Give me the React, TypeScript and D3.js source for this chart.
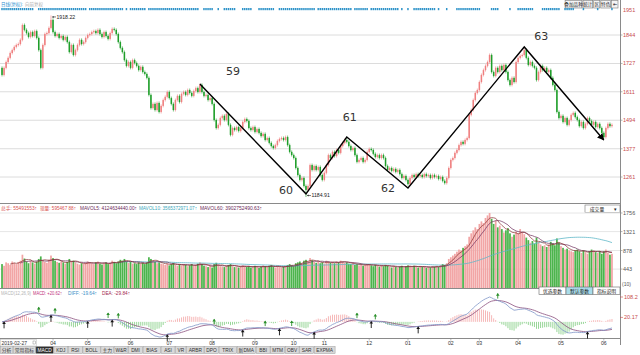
import React from 'react';
import * as d3 from 'd3';

// ---------- data ----------
const firstOpen = 1709;
const closes: number[] = [
  1680,1709,1733,1750,1770,1782,1795,1803,1807,1824,
  1885,1865,1852,1836,1856,1840,1860,1832,1782,1709,
  1803,1848,1852,1873,1906,1856,1840,1848,1832,1840,
  1824,1836,1815,1774,1803,1762,1782,1803,1824,1807,
  1815,1832,1844,1848,1856,1860,1852,1865,1848,1836,
  1856,1840,1828,1852,1869,1865,1848,1815,1791,1774,
  1741,1717,1733,1709,1741,1729,1717,1700,1713,1692,
  1684,1668,1598,1544,1561,1536,1565,1528,1553,1577,
  1590,1610,1585,1561,1536,1577,1594,1569,1602,1610,
  1598,1618,1606,1594,1614,1626,1610,1639,1610,1594,
  1598,1577,1585,1561,1495,1462,1475,1503,1512,1495,
  1520,1475,1434,1462,1454,1466,1450,1462,1487,1499,
  1491,1462,1454,1466,1446,1458,1442,1429,1438,1413,
  1421,1401,1388,1380,1392,1409,1417,1421,1413,1425,
  1392,1364,1351,1339,1298,1269,1249,1257,1224,1208,
  1224,1310,1290,1306,1290,1302,1269,1249,1278,1310,
  1351,1339,1364,1347,1372,1360,1388,1401,1413,1405,
  1388,1372,1380,1351,1323,1331,1339,1323,1331,1364,
  1376,1372,1356,1343,1351,1339,1351,1339,1306,1290,
  1298,1286,1294,1282,1290,1273,1257,1265,1249,1232,
  1257,1269,1261,1273,1265,1269,1261,1273,1265,1269,
  1257,1269,1261,1265,1253,1261,1245,1236,1257,1298,
  1331,1339,1360,1372,1392,1405,1397,1413,1421,1516,
  1536,1577,1606,1618,1651,1680,1700,1717,1733,1762,
  1692,1676,1709,1692,1717,1700,1721,1692,1659,1639,
  1668,1651,1733,1750,1758,1762,1782,1750,1721,1733,
  1717,1709,1659,1692,1717,1700,1709,1692,1700,1668,
  1639,1618,1528,1503,1512,1487,1503,1475,1495,1516,
  1524,1507,1495,1470,1487,1462,1479,1503,1491,1475,
  1487,1466,1479,1462,1442,1425,1462,1479,1470,1475,
];

const volumes: number[] = [
  560,520,600,580,540,620,590,560,610,640,
  780,690,620,580,640,600,570,620,680,740,
  650,610,590,660,760,700,640,610,590,620,
  600,570,610,680,630,640,600,570,550,580,
  560,590,620,600,580,560,600,620,570,550,
  580,600,560,590,640,610,580,620,660,640,
  680,620,590,610,570,580,560,600,570,590,
  560,600,720,680,640,610,580,600,570,560,
  540,570,530,560,590,540,520,550,530,560,
  540,510,530,560,520,540,570,600,560,520,
  510,490,520,480,560,590,540,510,500,490,
  520,540,560,510,490,500,480,510,530,500,
  490,510,480,500,520,490,470,500,530,510,
  490,520,540,500,480,510,490,470,500,520,
  540,560,530,510,580,600,620,580,640,660,
  620,700,650,610,590,620,580,600,560,640,
  620,590,610,580,620,600,640,620,590,600,
  570,560,580,540,560,530,550,520,540,560,
  550,530,510,540,520,500,530,510,540,520,
  500,480,510,490,470,500,520,480,510,530,
  510,490,520,500,480,510,490,500,470,490,
  480,510,500,520,490,530,560,540,580,680,
  720,760,800,850,900,880,940,980,1020,1200,
  1280,1350,1420,1380,1500,1560,1520,1640,1700,1756,
  1620,1500,1580,1420,1460,1380,1300,1350,1400,1280,
  1200,1250,1320,1280,1380,1300,1260,1180,1120,1060,
  1100,1040,1180,1080,1020,980,1000,960,1020,1080,
  1040,1000,1160,1060,980,940,900,920,880,860,
  840,880,900,860,820,880,840,800,860,900,
  880,840,820,860,800,860,900,820,780,800,
];

const extremeIdx = [24, 149];
const extremeVal = [1918.22, 1184.91];

const waveIdx = [97, 149, 169, 199, 256, 295];
const wavePrice = [1643, 1192, 1425, 1216, 1795, 1413];
const waveLabels = ['59', '60', '61', '62', '63'];

const priceTicks = [1261, 1377, 1494, 1611, 1727, 1844];
const volTicks = [443, 878, 1321, 1756];
const macdLabels = [108.2, 20.17];

const monthLabels = ['04','05','06','07','08','09','10','11','12','01','02','03','04','05','06'];
const monthIdx = [25, 42, 63, 82, 103, 124, 143, 158, 180, 199, 220, 234, 253, 274, 295];
const firstDate = '2019-02-27';

const infoRanges: [number, number][] = [
  [0,15],[18,41],[43,59],[61,61],[63,70],[72,96],[99,103],[106,106],[109,114],[118,122],
  [126,132],[133,133],[136,143],[144,153],[155,171],[173,179],[181,194],[196,196],[199,199],
  [202,212],[214,214],[218,218],[223,233],[234,234],[240,243],[249,249],[253,260],[265,273],
  [276,280],[285,285],[292,292],[299,299],
];

const volHeader = ['总手: 55491553↑', '现量: 595467 88↑', 'MAVOL5: 4124634440.00↑', 'MAVOL10: 3565372971.07↑', 'MAVOL60: 3902752490.63↑'];
const macdHeader = ['MACD(12,26,9)', 'MACD: +20.62↑', 'DIFF: -19.64↑', 'DEA: -29.84↑'];
const tabs = ['分析','常用指标','MACD','KDJ','RSI','BOLL','主力','W&R','DMI','BIAS','ASI','VR','ARBR','DPO','TRIX','新DMA','BBI','MTM','OBV','SAR','EXPMA'];
const topButtons = ['叠加品种','统计','区','特色','⇤'];
const macdButtons = ['优选参数','默认参数','指标说明'];

// ---------- styles ----------
const FONT = '"Liberation Sans", "Noto Sans CJK SC", sans-serif';
const UP = '#ef7f7f';
const DOWN = '#1f9e2a';
const VUP = '#f2a5a5';
const VDOWN = '#4cb44c';

function ema(arr: number[], p: number) {
  const k = 2 / (p + 1);
  const out: number[] = [];
  arr.forEach((v, i) => out.push(i === 0 ? v : v * k + out[i - 1] * (1 - k)));
  return out;
}

function textW(s: string, cjk: number, lat: number) {
  let w = 0;
  for (const ch of s) w += /[\u3000-\u9fff]/.test(ch) ? cjk : lat;
  return w;
}

export default function App() {
  const n = closes.length;
  const opens = closes.map((c, i) => (i === 0 ? firstOpen : closes[i - 1]));
  const x = d3.scaleBand<number>().domain(d3.range(n)).range([1, 613]);
  const bw = x.bandwidth();
  const cx = (i: number) => (x(i) ?? 0) + bw / 2;

  const yP = d3.scaleLinear().domain([1261, 1844]).range([177, 35]);
  const yV = d3.scaleLinear().domain([0, 1756]).range([288, 213]);

  const e12 = ema(closes, 12);
  const e26 = ema(closes, 26);
  const diff = e12.map((v, i) => v - e26[i]);
  const dea = ema(diff, 9);
  const hist = diff.map((v, i) => 2 * (v - dea[i]));
  const allM = [...diff, ...dea, ...hist];
  const yM = d3.scaleLinear().domain([d3.min(allM)!, d3.max(allM)!]).range([337, 297]);

  const ma = (p: number) => volumes.map((_, i) => (i < p - 1 ? null : (d3.mean(volumes.slice(i - p + 1, i + 1)) as number)));
  const vLine = d3.line<number | null>().defined((d) => d !== null).x((_, i) => cx(i)).y((d) => yV(d as number));
  const mLine = d3.line<number>().x((_, i) => cx(i)).y((d) => yM(d));

  const crosses: { i: number; up: boolean }[] = [];
  for (let i = 1; i < n; i++) {
    if (diff[i - 1] <= dea[i - 1] && diff[i] > dea[i]) crosses.push({ i, up: true });
    if (diff[i - 1] >= dea[i - 1] && diff[i] < dea[i]) crosses.push({ i, up: false });
  }

  const wavePts = waveIdx.map((i, k) => [cx(i), yP(wavePrice[k])] as [number, number]);
  const labelOff = [[33, -9], [-20, 0], [3, -16], [-20, 4], [17, -7]];

  let tx = 0;
  const tabCells = tabs.map((t) => {
    const w = textW(t, 4.6, 3.5) + 4;
    const c = { t, x: tx, w };
    tx += w;
    return c;
  });
  const tbW = topButtons.map((t) => textW(t, 3.6, 4) + 2.5);
  let bx = 619 - d3.sum(tbW) - topButtons.length;
  const tbCells = topButtons.map((t, k) => {
    const c = { t, x: bx, w: tbW[k] };
    bx += tbW[k] + 1;
    return c;
  });

  const topLabel = yP.invert(9).toFixed(0);

  return (
    <svg width={640} height={355} style={{ position: 'fixed', left: 0, top: 0, background: '#fff' }} fontFamily={FONT}>
      <defs>
        <marker id="ah" viewBox="0 0 10 10" refX="9" refY="5" markerWidth="5" markerHeight="5" orient="auto">
          <path d="M0,0 L10,5 L0,10 z" fill="#000" />
        </marker>
        <clipPath id="mainClip"><rect x={0} y={9} width={620} height={194} /></clipPath>
      </defs>

      {/* header */}
      <text x={1} y={5.5} fontSize={5} fill="#2d8fd0" textLength={22} lengthAdjust="spacingAndGlyphs">日线(复权):</text>
      <text x={25} y={5.5} fontSize={5} fill="#aaa" textLength={18} lengthAdjust="spacingAndGlyphs">向前复权</text>
      {tbCells.map((c, k) => (
        <g key={k}>
          <rect x={c.x} y={0.5} width={c.w} height={7.5} fill="#f4f4f4" stroke="#777" strokeWidth={0.6} />
          <text x={c.x + c.w / 2} y={6} fontSize={4.6} textAnchor="middle" fill="#222">{c.t}</text>
        </g>
      ))}

      {/* info mine markers */}
      {infoRanges.map(([a, b], k) =>
        d3.range(a, b + 1).map((i) => (
          <rect key={`${k}-${i}`} x={(x(i) ?? 0) + 0.25} y={8} width={bw - 0.55} height={2.2} fill="#2e93c9" />
        ))
      )}

      {/* price grid */}
      {priceTicks.map((t) => (
        <line key={t} x1={0} x2={620} y1={yP(t)} y2={yP(t)} stroke="#dcdcdc" strokeWidth={1} />
      ))}

      {/* candles */}
      <g clipPath="url(#mainClip)">
        {closes.map((c, i) => {
          const o = opens[i];
          const up = c >= o;
          let hi = Math.max(o, c);
          let lo = Math.min(o, c);
          const ek = extremeIdx.indexOf(i);
          if (ek >= 0) { hi = Math.max(hi, extremeVal[ek]); lo = Math.min(lo, extremeVal[ek]); }
          const y1 = yP(Math.max(o, c));
          const y2 = yP(Math.min(o, c));
          return (
            <g key={i}>
              <line x1={cx(i)} x2={cx(i)} y1={yP(hi) - 1.5} y2={yP(lo) + 1.5} stroke={up ? UP : DOWN} strokeWidth={0.6} />
              <rect x={cx(i) - 0.75} y={y1} width={1.5} height={Math.max(1, y2 - y1)} fill={up ? UP : DOWN} />
            </g>
          );
        })}
      </g>

      {/* extreme labels */}
      {extremeIdx.map((i, k) => (
        <g key={k}>
          <line x1={cx(i) + 1.5} x2={cx(i) + 5} y1={yP(extremeVal[k])} y2={yP(extremeVal[k])} stroke="#222" strokeWidth={0.6} />
          <path d={`M${cx(i) + 1},${yP(extremeVal[k])} l1.6,-1 l0,2 z`} fill="#222" />
          <text x={cx(i) + 5.5} y={yP(extremeVal[k]) + 1.8} fontSize={5.2} fill="#222">{extremeVal[k].toFixed(2)}</text>
        </g>
      ))}

      {/* wave lines */}
      <polyline points={wavePts.map((p) => p.join(',')).join(' ')} fill="none" stroke="#000" strokeWidth={1.4} markerEnd="url(#ah)" />
      {waveLabels.map((l, k) => (
        <text key={l} x={wavePts[k][0] + labelOff[k][0]} y={wavePts[k][1] + labelOff[k][1]} fontSize={11} fill="#333" textAnchor="middle" fontFamily='"DejaVu Sans", sans-serif'>{l}</text>
      ))}

      {/* separators */}
      <line x1={0} x2={620} y1={203.5} y2={203.5} stroke="#8a8a8a" strokeWidth={1} />
      <line x1={0} x2={620} y1={288.5} y2={288.5} stroke="#8a8a8a" strokeWidth={1} />
      <line x1={0} x2={620} y1={338.5} y2={338.5} stroke="#8a8a8a" strokeWidth={1} />
      <line x1={620.5} x2={620.5} y1={0} y2={345} stroke="#8a8a8a" strokeWidth={1} />

      {/* price axis labels */}
      <text x={623} y={11.5} fontSize={5.5} fill="#c84b4b">{topLabel}</text>
      {priceTicks.map((t) => (
        <g key={t}>
          <line x1={620} x2={622.5} y1={yP(t)} y2={yP(t)} stroke="#888" strokeWidth={0.6} />
          <text x={623} y={yP(t) + 2} fontSize={5.5} fill="#c84b4b">{t}</text>
        </g>
      ))}

      {/* volume header */}
      {volHeader.map((t, k) => {
        const xs = [1, 40, 80, 139, 200];
        const ws = [36, 36, 57, 58, 62];
        const cols = ['#d9534f', '#d9534f', '#6d2c5a', '#3aa6b9', '#6d2c5a'];
        return (
          <text key={k} x={xs[k]} y={209.5} fontSize={5} fill={cols[k]} textLength={ws[k]} lengthAdjust="spacingAndGlyphs">{t}</text>
        );
      })}
      <rect x={585} y={205} width={35} height={7.5} fill="#fff" stroke="#777" strokeWidth={0.6} />
      <text x={597} y={210.8} fontSize={4.8} textAnchor="middle" fill="#222">成交量</text>
      <text x={615} y={210.8} fontSize={4.5} textAnchor="middle" fill="#222">▾</text>

      {/* volume grid */}
      {volTicks.map((t) => (
        <line key={t} x1={0} x2={620} y1={yV(t)} y2={yV(t)} stroke="#e6e6e6" strokeWidth={1} />
      ))}
      {/* volume bars */}
      {volumes.map((v, i) => (
        <rect key={i} x={(x(i) ?? 0) + 0.15} y={yV(v)} width={bw - 0.3} height={yV(0) - yV(v)} fill={closes[i] >= opens[i] ? VUP : VDOWN} />
      ))}
      <path d={vLine(ma(60)) ?? ''} fill="none" stroke="#5fb8c8" strokeWidth={0.8} />
      <path d={vLine(ma(10)) ?? ''} fill="none" stroke="#6d2c5a" strokeWidth={0.7} />
      <path d={vLine(ma(5)) ?? ''} fill="none" stroke="#8a2f2f" strokeWidth={0.7} />
      {volTicks.map((t) => (
        <g key={t}>
          <line x1={620} x2={622.5} y1={yV(t)} y2={yV(t)} stroke="#888" strokeWidth={0.6} />
          <text x={623} y={yV(t) + 2} fontSize={5.5} fill="#555">{t}</text>
        </g>
      ))}
      <text x={622} y={285.5} fontSize={5} fill="#555">(10)</text>

      {/* macd header */}
      {macdHeader.map((t, k) => {
        const xs = [1, 33, 68, 102];
        const ws = [30, 29, 29, 28];
        const cols = ['#b5b5b5', '#c0307a', '#3b8fc6', '#a3284f'];
        return (
          <text key={k} x={xs[k]} y={294.5} fontSize={5} fill={cols[k]} textLength={ws[k]} lengthAdjust="spacingAndGlyphs">{t}</text>
        );
      })}
      {macdButtons.map((t, k) => (
        <g key={t}>
          <rect x={539 + k * 27} y={287} width={27} height={7.5} fill={k === 1 ? '#a9dcea' : '#fff'} stroke="#666" strokeWidth={0.6} />
          <text x={539 + k * 27 + 13.5} y={292.7} fontSize={4.8} textAnchor="middle" fill="#222">{t}</text>
        </g>
      ))}

      {/* macd histogram */}
      {hist.map((h, i) => (
        <line key={i} x1={cx(i)} x2={cx(i)} y1={yM(0)} y2={yM(h)} stroke={h >= 0 ? '#f29a9a' : '#6cc46c'} strokeWidth={0.7} />
      ))}
      <path d={mLine(dea) ?? ''} fill="none" stroke="#8a4f7d" strokeWidth={0.8} />
      <path d={mLine(diff) ?? ''} fill="none" stroke="#7f95c8" strokeWidth={0.8} />
      {crosses.map(({ i, up }) => {
        const yy = yM(diff[i]);
        return up ? (
          <g key={i} fill="#111" stroke="#111">
            <line x1={cx(i)} x2={cx(i)} y1={yy + 2} y2={yy + 7} strokeWidth={0.9} />
            <path d={`M${cx(i)},${yy} l-1.8,2.6 l3.6,0 z`} stroke="none" />
          </g>
        ) : (
          <g key={i} fill="#2a8f2a" stroke="#2a8f2a">
            <line x1={cx(i)} x2={cx(i)} y1={yy - 7} y2={yy - 2} strokeWidth={0.9} />
            <path d={`M${cx(i)},${yy - 7.5} l-1.8,2.6 l3.6,0 z`} stroke="none" />
          </g>
        );
      })}
      {macdLabels.map((v, k) => {
        const yy = k === 0 ? 297 : yM(v);
        return (
          <g key={k}>
            <line x1={620} x2={623} y1={yy} y2={yy} stroke="#c84b4b" strokeWidth={0.6} />
            <text x={624} y={yy + 2} fontSize={5.5} fill="#c84b4b">{v}</text>
          </g>
        );
      })}

      {/* date axis */}
      <rect x={0.5} y={339.5} width={36} height={6.5} fill="#fff" stroke="#bbb" strokeWidth={0.5} />
      <text x={1.5} y={344.5} fontSize={5} fill="#333">{firstDate}</text>
      <rect x={33} y={341} width={2.6} height={3} fill="none" stroke="#777" strokeWidth={0.4} />
      {monthLabels.map((m, k) => (
        <g key={k}>
          <line x1={cx(monthIdx[k])} x2={cx(monthIdx[k])} y1={338.5} y2={340.5} stroke="#888" strokeWidth={0.6} />
          <text x={cx(monthIdx[k])} y={344.8} fontSize={5.2} textAnchor="middle" fill="#333">{m}</text>
        </g>
      ))}

      {/* tabs */}
      <rect x={0} y={346} width={640} height={9} fill="#fff" />
      {tabCells.map((c, k) => (
        <g key={k}>
          <rect x={c.x + 0.3} y={346.5} width={c.w - 0.6} height={7} fill={c.t === 'MACD' ? '#2f2f2f' : '#d9d9d9'} stroke="#9a9a9a" strokeWidth={0.5} />
          <text x={c.x + c.w / 2} y={351.8} fontSize={4.8} textAnchor="middle" fill={c.t === 'MACD' ? '#fff' : '#333'}>{c.t}</text>
        </g>
      ))}
    </svg>
  );
}
